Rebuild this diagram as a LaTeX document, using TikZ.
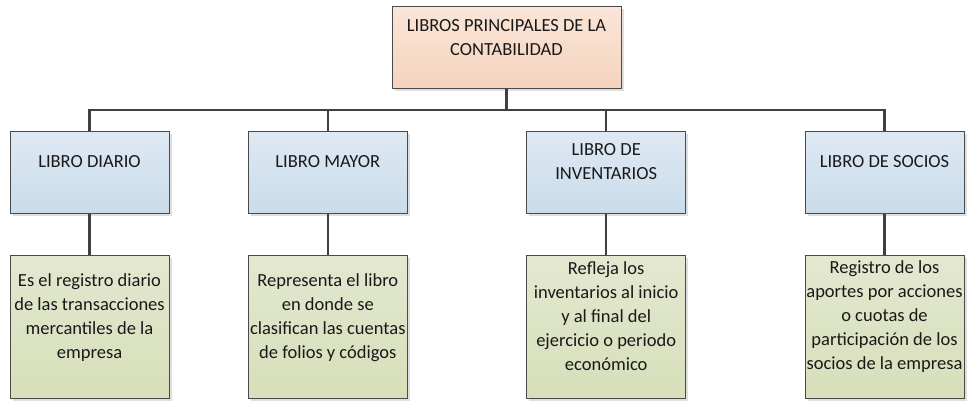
\documentclass[tikz,border=0pt]{standalone}
\usepackage{fontspec}
\setmainfont{Carlito}
\usetikzlibrary{positioning, shadows}

\definecolor{peachtop}{HTML}{FAE5D8}
\definecolor{peachbot}{HTML}{F5D3BD}
\definecolor{bluetop}{HTML}{DFE9F3}
\definecolor{bluebot}{HTML}{C9DCEB}
\definecolor{greentop}{HTML}{E3E8D0}
\definecolor{greenbot}{HTML}{D6DFB9}
\definecolor{boxline}{HTML}{4A4A4A}
\definecolor{connline}{HTML}{404040}

\tikzset{
    box/.style={draw=boxline, line width=1pt, minimum width=159pt,
        drop shadow={shadow xshift=2.5pt, shadow yshift=-2.5pt, fill=black!25, opacity=0.5}},
    rootbox/.style={box, minimum width=229pt, minimum height=82pt, top color=peachtop, bottom color=peachbot},
    bookbox/.style={box, minimum height=82pt, top color=bluetop, bottom color=bluebot},
    notebox/.style={box, minimum height=143pt, top color=greentop, bottom color=greenbot},
    txt/.style={align=center, inner sep=0pt, font=\fontsize{18.5}{24}\selectfont, text=black!90},
    conn/.style={draw=connline, line width=2.2pt}
}

\begin{document}
\begin{tikzpicture}[x=1pt, y=-1pt]
    \useasboundingbox (0,0) rectangle (968,401);

    % root
    \node[rootbox] (libros) at (506.5,48) {};
    \node[txt] (librost) at ([yshift=-31.5pt]libros.north) {LIBROS PRINCIPALES DE LA\\CONTABILIDAD};

    % books
    \node[bookbox] (diario) at (89.5,172) {};
    \node[bookbox] (mayor) at (327.8,172) {};
    \node[bookbox] (invent) at (606.2,172) {};
    \node[bookbox] (socios) at (884.5,172) {};
    \node[txt] (diariot) at ([yshift=-31pt]diario.north) {LIBRO DIARIO};
    \node[txt] (mayort) at ([yshift=-31pt]mayor.north) {LIBRO MAYOR};
    \node[txt] (inventt) at ([yshift=-31pt]invent.north) {LIBRO DE\\INVENTARIOS};
    \node[txt] (sociost) at ([yshift=-31pt]socios.north) {LIBRO DE SOCIOS};

    % descriptions
    \node[notebox] (diariod) at (89.5,326.5) {};
    \node[notebox] (mayord) at (327.8,326.5) {};
    \node[notebox] (inventd) at (606.2,326.5) {};
    \node[notebox] (sociosd) at (884.5,326.5) {};
    \node[txt] (diariodt) at ([yshift=-63pt]diariod.north) {Es el registro diario\\de las transacciones\\mercantiles de la\\empresa};
    \node[txt] (mayordt) at ([yshift=-63pt]mayord.north) {Representa el libro\\en donde se\\clasifican las cuentas\\de folios y códigos};
    \node[txt] (inventdt) at ([yshift=-62pt]inventd.north) {Refleja los\\inventarios al inicio\\y al final del\\ejercicio o periodo\\económico};
    \node[txt] (sociosdt) at ([yshift=-62pt]sociosd.north) {Registro de los\\aportes por acciones\\o cuotas de\\participación de los\\socios de la empresa};

    % connectors
    \coordinate (bar) at (506.5,110);
    \draw[conn] (libros.south) -- (bar);
    \foreach \n in {diario, mayor, invent, socios} {
        \draw[conn] (bar) -| (\n.north);
        \draw[conn] (\n.south) -- (\n d.north);
    }
\end{tikzpicture}
\end{document}
